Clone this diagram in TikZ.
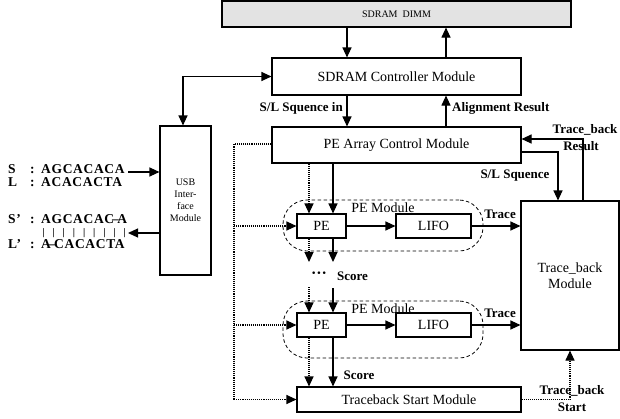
\documentclass[tikz,border=0pt]{standalone}
\usepackage{fontspec}
\setmainfont{Liberation Serif}
\usetikzlibrary{arrows.meta}
\begin{document}
\begin{tikzpicture}[x=1pt,y=-1pt,
  blk/.style={draw, line width=1.1pt, inner sep=0pt, align=center, font=\fontsize{14}{16}\selectfont},
  pemod/.style={draw, dash pattern=on 3.5pt off 2.5pt, line width=0.8pt, rounded corners=24pt, inner sep=0pt},
  arr/.style={line width=1.1pt, -{Triangle[length=10pt,width=9pt]}},
  barr/.style={line width=1.1pt, {Triangle[length=10pt,width=9pt]}-{Triangle[length=10pt,width=9pt]}},
  darr/.style={arr, densely dotted},
  dln/.style={line width=1.1pt, densely dotted},
  lbl/.style={font=\fontsize{13}{15}\selectfont\bfseries, inner sep=0pt},
  txt/.style={font=\fontsize{14}{16}\selectfont, inner sep=0pt},
  seq/.style={font=\fontsize{13.5}{14}\selectfont\bfseries\addfontfeature{LetterSpace=5}, inner sep=0pt, anchor=west, text height=8.5pt, text depth=0pt},
  bar/.style={font=\fontsize{10}{10}\selectfont\bfseries, inner sep=0pt, text height=7pt, text depth=1pt},
]
\useasboundingbox (0,0) rectangle (620,418);

% blocks
\node[blk, fill=gray!22, minimum width=349pt, minimum height=26pt, font=\fontsize{10}{11}\selectfont] (dimm) at (396.5,14) {SDRAM\ \ DIMM};
\node[blk, minimum width=249pt, minimum height=37pt] (ctrl) at (396.5,76.5) {SDRAM Controller Module};
\node[blk, minimum width=249pt, minimum height=36pt] (pearr) at (396.5,145) {PE Array Control Module};
\node[blk, minimum width=98pt, minimum height=149pt] (tb) at (570,275.5) {Trace\_back\\Module};
\node[blk, minimum width=51pt, minimum height=149pt, font=\fontsize{10}{12}\selectfont] (usb) at (185.5,200.5) {USB\\Inter-\\face\\Module};

\node[pemod, minimum width=200pt, minimum height=51pt] (pem1) at (383,225.5) {};
\node[pemod, minimum width=200pt, minimum height=57pt] (pem2) at (383,329.5) {};
\node[txt] (pem1l) at (383,208) {PE Module};
\node[txt] (pem2l) at (383,309) {PE Module};

\node[blk, fill=white, minimum width=49pt, minimum height=24pt] (pe1) at (321.5,226) {PE};
\node[blk, fill=white, minimum width=75pt, minimum height=24pt] (lifo1) at (433.5,226) {LIFO};
\node[blk, fill=white, minimum width=49pt, minimum height=24pt] (pe2) at (321.5,325) {PE};
\node[blk, fill=white, minimum width=75pt, minimum height=24pt] (lifo2) at (433.5,325) {LIFO};
\node[blk, minimum width=224pt, minimum height=25pt] (tsm) at (409,399.5) {Traceback Start Module};

% DIMM <-> controller
\draw[arr] (dimm.south -| 347,0) -- (ctrl.north -| 347,0);
\draw[arr] (ctrl.north -| 446,0) -- (dimm.south -| 446,0);

% controller <-> PE array
\draw[arr] (ctrl.south -| 347,0) -- (pearr.north -| 347,0);
\draw[arr] (pearr.north -| 446,0) -- (ctrl.south -| 446,0);
\node[lbl, anchor=east] (slin) at (343,108) {S/L Squence in};
\node[lbl, anchor=west] (alres) at (452,108) {Alignment Result};

% USB <-> controller
\draw[barr] (usb.north -| 183,0) |- (ctrl.west);

% PE array -> trace back
\coordinate (slc) at (558,152);
\draw[arr] (pearr.east |- slc) -| (tb.north -| slc);
\node[lbl] (sllab) at (515,176) {S/L Squence};
\coordinate (trc) at (583,139);
\draw[arr] (tb.north -| trc) |- (pearr.east |- trc);
\node[lbl] (trlab1) at (585,130) {Trace\_back};
\node[lbl] (trlab2) at (581,146) {Result};

% dotted control lines
\coordinate (dx) at (234,144);
\draw[dln] (pearr.west |- dx) -| (tsm.west -| dx);
\draw[darr] (pe1.west -| dx) -- (pe1.west);
\draw[darr] (pe2.west -| dx) -- (pe2.west);
\draw[darr] (tsm.west -| dx) -- (tsm.west);

% PE array -> PE1
\draw[arr] (pearr.south -| 333,0) -- (pe1.north -| 333,0);
\draw[darr] (pearr.south -| 309,0) -- (pe1.north -| 309,0);

% PE -> LIFO -> trace back
\draw[arr] (pe1) -- (lifo1);
\draw[arr] (lifo1.east) -- (tb.west |- lifo1.east);
\node[lbl] (tr1) at (500,214) {Trace};
\draw[arr] (pe2) -- (lifo2);
\draw[arr] (lifo2.east) -- (tb.west |- lifo2.east);
\node[lbl] (tr2) at (500,313) {Trace};

% PE1 -> score
\coordinate (s1a) at (333,262);
\coordinate (s1b) at (309,262);
\draw[arr] (pe1.south -| s1a) -- (s1a);
\draw[darr] (pe1.south -| s1b) -- (s1b);
\node[lbl, font=\fontsize{16}{16}\selectfont\bfseries] (dots) at (319,275) {···};
\node[lbl, anchor=west] (score1) at (337,276) {Score};
\coordinate (s2a) at (333,288);
\coordinate (s2b) at (309,287);
\draw[arr] (s2a) -- (pe2.north -| s2a);
\draw[darr] (s2b) -- (pe2.north -| s2b);

% PE2 -> traceback start
\draw[arr] (pe2.south -| 333,0) -- (tsm.north -| 333,0);
\draw[darr] (pe2.south -| 309,0) -- (tsm.north -| 309,0);
\node[lbl] (score2) at (359,375) {Score};

% traceback start -> trace back module
\coordinate (tsc) at (570,400);
\draw[darr] (tsm.east) -| (tb.south -| tsc);
\node[lbl] (tslab1) at (572,391) {Trace\_back};
\node[lbl] (tslab2) at (572,407) {Start};

% sequences
\coordinate (inS) at (128,172);
\coordinate (outS) at (128,233);
\draw[arr] (inS) -- (usb.west |- inS);
\draw[arr] (usb.west |- outS) -- (outS);

\node[seq] (sS) at (8,169) {S};
\node[seq] (sSc) at (30,169) {:};
\node[seq] (sSq) at (41,169) {AGCACACA};
\node[seq] (sL) at (8,182) {L};
\node[seq] (sLc) at (30,182) {:};
\node[seq] (sLq) at (41,182) {ACACACTA};
\node[seq] (sS2) at (8,219.5) {S’};
\node[seq] (sS2c) at (30,219.5) {:};
\node[seq] (sS2q) at (41,219.5) {AGCACAC\kern-2pt–\kern-1.5ptA};
\node[seq] (sL2) at (8,244.5) {L’};
\node[seq] (sL2c) at (30,244.5) {:};
\node[seq] (sL2q) at (41,244.5) {A\kern-2.5pt–\kern-1pt CACACTA};
\foreach \i in {0,...,8} {
  \node[bar] (bar\i) at (43.5+10.15*\i,232.5) {|};
}
\end{tikzpicture}
\end{document}
